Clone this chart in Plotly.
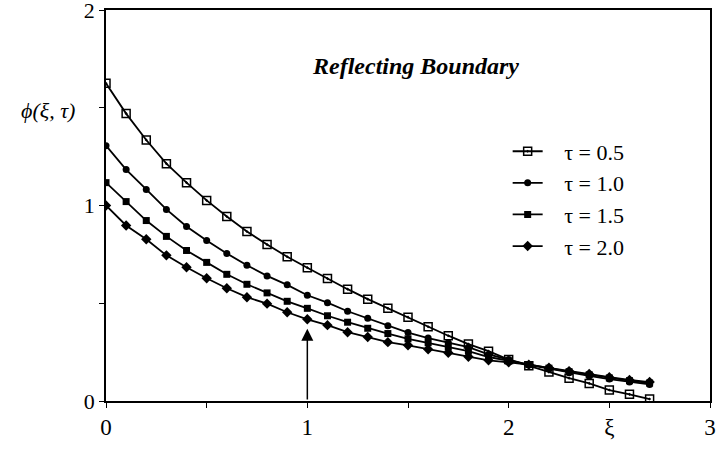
import plotly.graph_objects as go

xi = [round(0.1 * i, 1) for i in range(28)]

phi_tau_05 = [1.625, 1.47, 1.335, 1.214, 1.117, 1.026, 0.944, 0.867, 0.800, 0.738,
              0.682, 0.626, 0.572, 0.521, 0.474, 0.429, 0.380, 0.334, 0.291, 0.255,
              0.212, 0.180, 0.148, 0.117, 0.090, 0.056, 0.034, 0.010]
phi_tau_10 = [1.306, 1.184, 1.082, 0.980, 0.893, 0.821, 0.755, 0.694, 0.640, 0.594,
              0.541, 0.503, 0.459, 0.423, 0.385, 0.350, 0.322, 0.298, 0.275, 0.238,
              0.212, 0.185, 0.165, 0.145, 0.128, 0.112, 0.097, 0.085]
phi_tau_15 = [1.117, 1.020, 0.923, 0.842, 0.770, 0.709, 0.648, 0.597, 0.553, 0.510,
              0.474, 0.436, 0.403, 0.372, 0.345, 0.318, 0.298, 0.275, 0.255, 0.225,
              0.205, 0.186, 0.168, 0.150, 0.134, 0.118, 0.104, 0.092]
phi_tau_20 = [1.000, 0.898, 0.827, 0.745, 0.684, 0.628, 0.577, 0.531, 0.498, 0.454,
              0.418, 0.388, 0.352, 0.327, 0.301, 0.285, 0.265, 0.247, 0.226, 0.208,
              0.198, 0.186, 0.170, 0.153, 0.138, 0.122, 0.108, 0.097]

series_names = ["\u03c4 = 0.5", "\u03c4 = 1.0", "\u03c4 = 1.5", "\u03c4 = 2.0"]
series_values = [phi_tau_05, phi_tau_10, phi_tau_15, phi_tau_20]

x_tickvals = [0, 0.5, 1, 1.5, 2, 2.5, 3]
x_ticktext = ["0", "", "1", "", "2", "\u03be", "3"]
y_tickvals = [0, 0.5, 1, 1.5, 2]
y_ticktext = ["0", "", "1", "", "2"]

title_text = "Reflecting Boundary"
y_title_text = "\u03d5(\u03be, \u03c4)"

SERIF = "Liberation Serif, Times New Roman, serif"

marker_styles = [
    dict(symbol="square-open-dot", size=8, color="black", line=dict(color="black", width=1.5)),
    dict(symbol="circle", size=7, color="black"),
    dict(symbol="square", size=7, color="black"),
    dict(symbol="diamond", size=8, color="black"),
]

fig = go.Figure()
for i, (name, vals) in enumerate(zip(series_names, series_values)):
    fig.add_trace(go.Scatter(
        x=xi, y=vals, mode="lines+markers", name="\u00a0\u00a0\u00a0" + name,
        legendgroup=f"g{i}",
        line=dict(color="black", width=1.8),
        marker=marker_styles[i],
    ))

fig.add_annotation(x=1, y=0.37, ax=1, ay=0.0, xref="x", yref="y", axref="x", ayref="y",
                   showarrow=True, arrowhead=2, arrowsize=1.6, arrowwidth=1.5,
                   arrowcolor="black", text="")

fig.add_annotation(x=1.535, y=1.715, xref="x", yref="y", text=f"<b><i>{title_text}</i></b>",
                   showarrow=False, font=dict(family=SERIF, size=24, color="black"))
fig.add_annotation(x=-0.0967, y=0.742, xref="paper", yref="paper", xanchor="center",
                   yanchor="middle", text=f"<i>{y_title_text}</i>",
                   showarrow=False, font=dict(family=SERIF, size=22, color="black"))

fig.update_layout(
    width=716, height=449,
    margin=dict(l=106, r=6, t=10, b=48, autoexpand=False),
    paper_bgcolor="white", plot_bgcolor="white",
    showlegend=True,
    legend=dict(x=0.665, y=0.692, xanchor="left", yanchor="top",
                bgcolor="rgba(0,0,0,0)", font=dict(family=SERIF, size=22, color="black"),
                tracegroupgap=0, itemwidth=30),
    font=dict(family=SERIF, size=22, color="black"),
)
fig.update_xaxes(range=[0, 3], tickvals=x_tickvals, ticktext=x_ticktext,
                 showline=True, linecolor="black", linewidth=1.5, mirror=True,
                 ticks="outside", ticklen=5, tickcolor="black", showgrid=False, zeroline=False,
                 ticklabeloverflow="allow", automargin=False,
                 tickfont=dict(family=SERIF, size=23, color="black"))
fig.update_yaxes(range=[0, 2], tickvals=y_tickvals, ticktext=y_ticktext,
                 showline=True, linecolor="black", linewidth=1.5, mirror=True,
                 ticks="outside", ticklen=5, tickcolor="black", showgrid=False, zeroline=False,
                 ticklabeloverflow="allow", automargin=False,
                 tickfont=dict(family=SERIF, size=22, color="black"))

fig.write_html("out.html", config={"displayModeBar": False},
               post_script="document.body.style.margin='0';document.body.style.overflow='hidden';")
